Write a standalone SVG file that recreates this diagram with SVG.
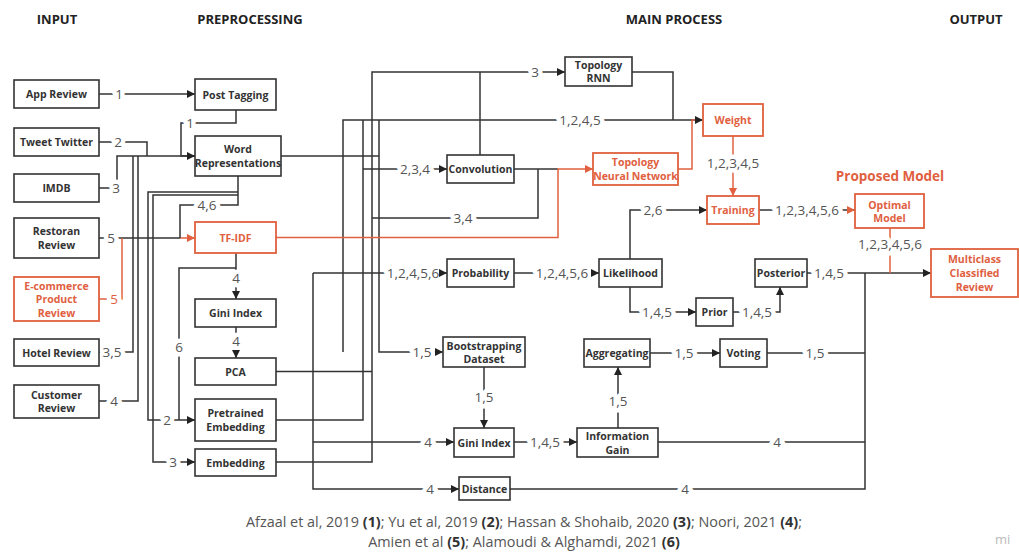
<svg xmlns="http://www.w3.org/2000/svg" width="1019" height="552" viewBox="0 0 1019 552">
<style>
.bx{fill:#fff;stroke:#333;stroke-width:1.6}
.rbx{fill:#fff;stroke:#E0603F;stroke-width:1.8}
.bt{font-family:'Open Sans','Liberation Sans',sans-serif;font-size:10.5px;font-weight:700;fill:#333;text-anchor:middle;dominant-baseline:central}
.rt{font-family:'Open Sans','Liberation Sans',sans-serif;font-size:10.5px;font-weight:700;fill:#E0603F;text-anchor:middle;dominant-baseline:central}
.hd{font-family:'Open Sans','Liberation Sans',sans-serif;font-size:13px;font-weight:700;fill:#222;text-anchor:middle}
.ln{fill:none;stroke:#333;stroke-width:1.5}
.rl{fill:none;stroke:#E0603F;stroke-width:1.5}
.ah{fill:none;stroke:none}
.lb{font-family:'Open Sans','Liberation Sans',sans-serif;font-size:13.5px;fill:#555;text-anchor:middle;dominant-baseline:central;stroke:#fff;stroke-width:9;paint-order:stroke;stroke-linejoin:round}
.rlb{fill:#E0603F}
.ft{font-family:'Open Sans','Liberation Sans',sans-serif;font-size:14.4px;fill:#555;text-anchor:middle}
.ft tspan.b{font-weight:700;fill:#333}
</style>
<defs>
<marker id="ab" viewBox="0 0 10 10" refX="10" refY="5" markerWidth="9" markerHeight="8" markerUnits="userSpaceOnUse" orient="auto"><path d="M0,0 L10,5 L0,10 z" fill="#222"/></marker>
<marker id="ar" viewBox="0 0 10 10" refX="10" refY="5" markerWidth="9" markerHeight="8" markerUnits="userSpaceOnUse" orient="auto"><path d="M0,0 L10,5 L0,10 z" fill="#E0603F"/></marker>
</defs>
<rect width="1019" height="552" fill="#fff"/>

<g id="headers">
<text class="hd" x="57" y="24">INPUT</text>
<text class="hd" x="250" y="24">PREPROCESSING</text>
<text class="hd" x="674" y="24">MAIN PROCESS</text>
<text class="hd" x="976" y="24">OUTPUT</text>
<text x="890" y="181" style="font-family:'Open Sans','Liberation Sans',sans-serif;font-size:13.5px;font-weight:700;fill:#E0603F;text-anchor:middle">Proposed Model</text>
</g>

<g id="connectors">
<!-- input to preprocessing -->
<path class="ln" d="M99,94 H195"/>
<path class="ln" d="M236,110 V123 H181 V156 H195"/>
<path class="ln" d="M99,142 H147 V156"/>
<path class="ln" d="M99,188 H117 V156 H195"/>
<path class="ln" d="M99,352 H133 V156"/>
<path class="ln" d="M99,401 H138 V156"/>
<path class="ln" d="M99,238 H180"/>
<path class="rl" d="M99,299 H122 V238"/>
<path class="rl" d="M180,238 H195"/>
<path class="ln" d="M238,176 V205 H180 V238"/>
<path class="ln" d="M238,192 H148 V420 H195"/>
<path class="ln" d="M238,195 H153 V462 H195"/>
<path class="ln" d="M236,253 V299"/>
<path class="ln" d="M236,327 V358"/>
<path class="ln" d="M236,268 H179 V420"/>
<!-- preprocessing to main -->
<path class="ln" d="M343,352 V120 H703"/>
<path class="ln" d="M281,156 H379"/>
<path class="ln" d="M379,120 V352 H443"/>
<path class="ln" d="M276,420 H363 V120"/>
<path class="ln" d="M363,169 H447"/>
<path class="ln" d="M276,462 H372 V72 H565"/>
<path class="ln" d="M276,371.5 H372"/>
<path class="ln" d="M372,218 H538 V169"/>
<path class="ln" d="M480,155 V72"/>
<path class="ln" d="M514,169 H558"/>
<path class="rl" d="M276,237.5 H558 V169 H593"/>
<path class="ln" d="M632,72 H673 V120"/>
<path class="rl" d="M678,169 H692 V120 H700"/>
<path class="ln" d="M313,273 V489 H459"/>
<path class="ln" d="M313,273 H447"/>
<path class="ln" d="M313,442 H454"/>
<path class="ln" d="M514,273 H599"/>
<path class="ln" d="M630,259 V210 H707"/>
<path class="ln" d="M630,287 V312 H696"/>
<path class="ln" d="M733,312 H780 V287"/>
<path class="ln" d="M807,273 H931"/>
<path class="ln" d="M484,367 V428"/>
<path class="ln" d="M514,442 H577"/>
<path class="ln" d="M618,428 V367"/>
<path class="ln" d="M650,353 H720"/>
<path class="ln" d="M767,353 H865"/>
<path class="ln" d="M658,442 H865"/>
<path class="ln" d="M510,489 H865 V273"/>
<path class="ln" d="M759,210 H855"/>
<path class="rl" d="M733,136 V196"/>
<path class="rl" d="M890,228 V273"/>
<!-- labels -->
<text class="lb" x="119" y="94">1</text>
<text class="lb" x="190" y="123">1</text>
<text class="lb" x="118" y="142">2</text>
<text class="lb" x="116" y="188">3</text>
<text class="lb" x="111" y="238">5</text>
<text class="lb rlb" x="114" y="299">5</text>
<text class="lb" x="112" y="352">3,5</text>
<text class="lb" x="114" y="401">4</text>
<text class="lb" x="207" y="205">4,6</text>
<text class="lb" x="167" y="420">2</text>
<text class="lb" x="173" y="462">3</text>
<text class="lb" x="236" y="278">4</text>
<text class="lb" x="236" y="341">4</text>
<text class="lb" x="179" y="347">6</text>
<text class="lb" x="535" y="72">3</text>
<text class="lb" x="580" y="120">1,2,4,5</text>
<text class="lb" x="415" y="169">2,3,4</text>
<text class="lb" x="463" y="218">3,4</text>
<text class="lb" x="413" y="273">1,2,4,5,6</text>
<text class="lb" x="422" y="352">1,5</text>
<text class="lb" x="428" y="442">4</text>
<text class="lb" x="430" y="489">4</text>
<text class="lb" x="562" y="273">1,2,4,5,6</text>
<text class="lb" x="653" y="210">2,6</text>
<text class="lb" x="657" y="312">1,4,5</text>
<text class="lb" x="757" y="312">1,4,5</text>
<text class="lb" x="829" y="273">1,4,5</text>
<text class="lb" x="733" y="163">1,2,3,4,5</text>
<text class="lb" x="807" y="210">1,2,3,4,5,6</text>
<text class="lb" x="890" y="244">1,2,3,4,5,6</text>
<text class="lb" x="484" y="397">1,5</text>
<text class="lb" x="545" y="442">1,4,5</text>
<text class="lb" x="618" y="401">1,5</text>
<text class="lb" x="684" y="353">1,5</text>
<text class="lb" x="815" y="353">1,5</text>
<text class="lb" x="777" y="442">4</text>
<text class="lb" x="685" y="489">4</text>
<!-- arrowheads -->
<g id="arrowheads">
<path class="ah" d="M193,94 H195" marker-end="url(#ab)"/>
<path class="ah" d="M193,156 H195" marker-end="url(#ab)"/>
<path class="ah" d="M193,238 H195" marker-end="url(#ar)"/>
<path class="ah" d="M193,420 H195" marker-end="url(#ab)"/>
<path class="ah" d="M193,462 H195" marker-end="url(#ab)"/>
<path class="ah" d="M236,297 V299" marker-end="url(#ab)"/>
<path class="ah" d="M236,356 V358" marker-end="url(#ab)"/>
<path class="ah" d="M701,120 H703" marker-end="url(#ab)"/>
<path class="ah" d="M441,352 H443" marker-end="url(#ab)"/>
<path class="ah" d="M445,169 H447" marker-end="url(#ab)"/>
<path class="ah" d="M563,72 H565" marker-end="url(#ab)"/>
<path class="ah" d="M591,169 H593" marker-end="url(#ar)"/>
<path class="ah" d="M457,489 H459" marker-end="url(#ab)"/>
<path class="ah" d="M445,273 H447" marker-end="url(#ab)"/>
<path class="ah" d="M452,442 H454" marker-end="url(#ab)"/>
<path class="ah" d="M597,273 H599" marker-end="url(#ab)"/>
<path class="ah" d="M705,210 H707" marker-end="url(#ab)"/>
<path class="ah" d="M694,312 H696" marker-end="url(#ab)"/>
<path class="ah" d="M780,289 V287" marker-end="url(#ab)"/>
<path class="ah" d="M929,273 H931" marker-end="url(#ab)"/>
<path class="ah" d="M484,426 V428" marker-end="url(#ab)"/>
<path class="ah" d="M575,442 H577" marker-end="url(#ab)"/>
<path class="ah" d="M618,369 V367" marker-end="url(#ab)"/>
<path class="ah" d="M718,353 H720" marker-end="url(#ab)"/>
<path class="ah" d="M853,210 H855" marker-end="url(#ar)"/>
<path class="ah" d="M733,194 V196" marker-end="url(#ar)"/>
</g>
</g>

<!-- input nodes -->
<g id="app-review"><rect class="bx" x="14" y="80" width="85" height="28"/><text class="bt" x="56.5" y="94">App Review</text></g>
<g id="tweet-twitter"><rect class="bx" x="14" y="128" width="85" height="28"/><text class="bt" x="56.5" y="142">Tweet Twitter</text></g>
<g id="imdb"><rect class="bx" x="14" y="174" width="85" height="28"/><text class="bt" x="56.5" y="188">IMDB</text></g>
<g id="restoran-review"><rect class="bx" x="14" y="218" width="85" height="40"/><text class="bt" x="56.5" y="231">Restoran</text><text class="bt" x="56.5" y="245">Review</text></g>
<g id="ecommerce-review"><rect class="rbx" x="14" y="277" width="85" height="44"/><text class="rt" x="56.5" y="285.5">E-commerce</text><text class="rt" x="56.5" y="299">Product</text><text class="rt" x="56.5" y="312.5">Review</text></g>
<g id="hotel-review"><rect class="bx" x="14" y="339" width="85" height="27"/><text class="bt" x="56.5" y="352.5">Hotel Review</text></g>
<g id="customer-review"><rect class="bx" x="14" y="385" width="85" height="33"/><text class="bt" x="56.5" y="394.5">Customer</text><text class="bt" x="56.5" y="408">Review</text></g>

<!-- preprocessing nodes -->
<g id="post-tagging"><rect class="bx" x="195" y="79" width="81" height="31"/><text class="bt" x="235.5" y="94.5">Post Tagging</text></g>
<g id="word-representations"><rect class="bx" x="195" y="136" width="86" height="40"/><text class="bt" x="238" y="149">Word</text><text class="bt" x="238" y="163">Representations</text></g>
<g id="tf-idf"><rect class="rbx" x="195" y="222" width="81" height="31"/><text class="rt" x="235.5" y="237.5">TF-IDF</text></g>
<g id="gini-index-pre"><rect class="bx" x="195" y="299" width="81" height="28"/><text class="bt" x="235.5" y="313">Gini Index</text></g>
<g id="pca"><rect class="bx" x="195" y="358" width="81" height="27"/><text class="bt" x="235.5" y="371.5">PCA</text></g>
<g id="pretrained-embedding"><rect class="bx" x="195" y="399" width="81" height="42"/><text class="bt" x="235.5" y="413">Pretrained</text><text class="bt" x="235.5" y="427">Embedding</text></g>
<g id="embedding"><rect class="bx" x="195" y="449" width="81" height="27"/><text class="bt" x="235.5" y="462.5">Embedding</text></g>

<!-- main process nodes -->
<g id="topology-rnn"><rect class="bx" x="565" y="57" width="67" height="29"/><text class="bt" x="598.5" y="65">Topology</text><text class="bt" x="598.5" y="78">RNN</text></g>
<g id="convolution"><rect class="bx" x="447" y="155" width="67" height="28"/><text class="bt" x="480.5" y="169">Convolution</text></g>
<g id="topology-nn"><rect class="rbx" x="593" y="153" width="85" height="32"/><text class="rt" x="635.5" y="162">Topology</text><text class="rt" x="635.5" y="176">Neural Network</text></g>
<g id="probability"><rect class="bx" x="447" y="259" width="67" height="28"/><text class="bt" x="480.5" y="273">Probability</text></g>
<g id="likelihood"><rect class="bx" x="599" y="259" width="63" height="28"/><text class="bt" x="630.5" y="273">Likelihood</text></g>
<g id="bootstrapping"><rect class="bx" x="443" y="337" width="82" height="30"/><text class="bt" x="484" y="345.5">Bootstrapping</text><text class="bt" x="484" y="359">Dataset</text></g>
<g id="aggregating"><rect class="bx" x="584" y="339" width="66" height="28"/><text class="bt" x="617" y="353">Aggregating</text></g>
<g id="gini-index-main"><rect class="bx" x="454" y="428" width="60" height="29"/><text class="bt" x="484" y="442.5">Gini Index</text></g>
<g id="information-gain"><rect class="bx" x="577" y="428" width="81" height="29"/><text class="bt" x="617.5" y="436">Information</text><text class="bt" x="617.5" y="449.5">Gain</text></g>
<g id="distance"><rect class="bx" x="459" y="477" width="51" height="23"/><text class="bt" x="484.5" y="488.5">Distance</text></g>
<g id="weight"><rect class="rbx" x="703" y="104" width="60" height="32"/><text class="rt" x="733" y="120">Weight</text></g>
<g id="training"><rect class="rbx" x="707" y="196" width="52" height="28"/><text class="rt" x="733" y="210">Training</text></g>
<g id="optimal-model"><rect class="rbx" x="855" y="194" width="69" height="34"/><text class="rt" x="889.5" y="204.5">Optimal</text><text class="rt" x="889.5" y="218">Model</text></g>
<g id="posterior"><rect class="bx" x="755" y="259" width="52" height="28"/><text class="bt" x="781" y="273">Posterior</text></g>
<g id="prior"><rect class="bx" x="696" y="298" width="37" height="28"/><text class="bt" x="714.5" y="312">Prior</text></g>
<g id="voting"><rect class="bx" x="720" y="339" width="47" height="28"/><text class="bt" x="743.5" y="353">Voting</text></g>
<g id="multiclass-review"><rect class="rbx" x="931" y="249" width="87" height="48"/><text class="rt" x="974.5" y="259">Multiclass</text><text class="rt" x="974.5" y="273">Classified</text><text class="rt" x="974.5" y="287">Review</text></g>

<g id="footer">
<text class="ft" x="524" y="527">Afzaal et al, 2019 <tspan class="b">(1)</tspan>; Yu et al, 2019 <tspan class="b">(2)</tspan>; Hassan &amp; Shohaib, 2020 <tspan class="b">(3)</tspan>; Noori, 2021 <tspan class="b">(4)</tspan>;</text>
<text class="ft" x="524" y="547">Amien et al <tspan class="b">(5)</tspan>; Alamoudi &amp; Alghamdi, 2021 <tspan class="b">(6)</tspan></text>
<text x="995" y="544" style="font-family:'Open Sans','Liberation Sans',sans-serif;font-size:13px;fill:#bbb">mi</text>
</g>
</svg>
